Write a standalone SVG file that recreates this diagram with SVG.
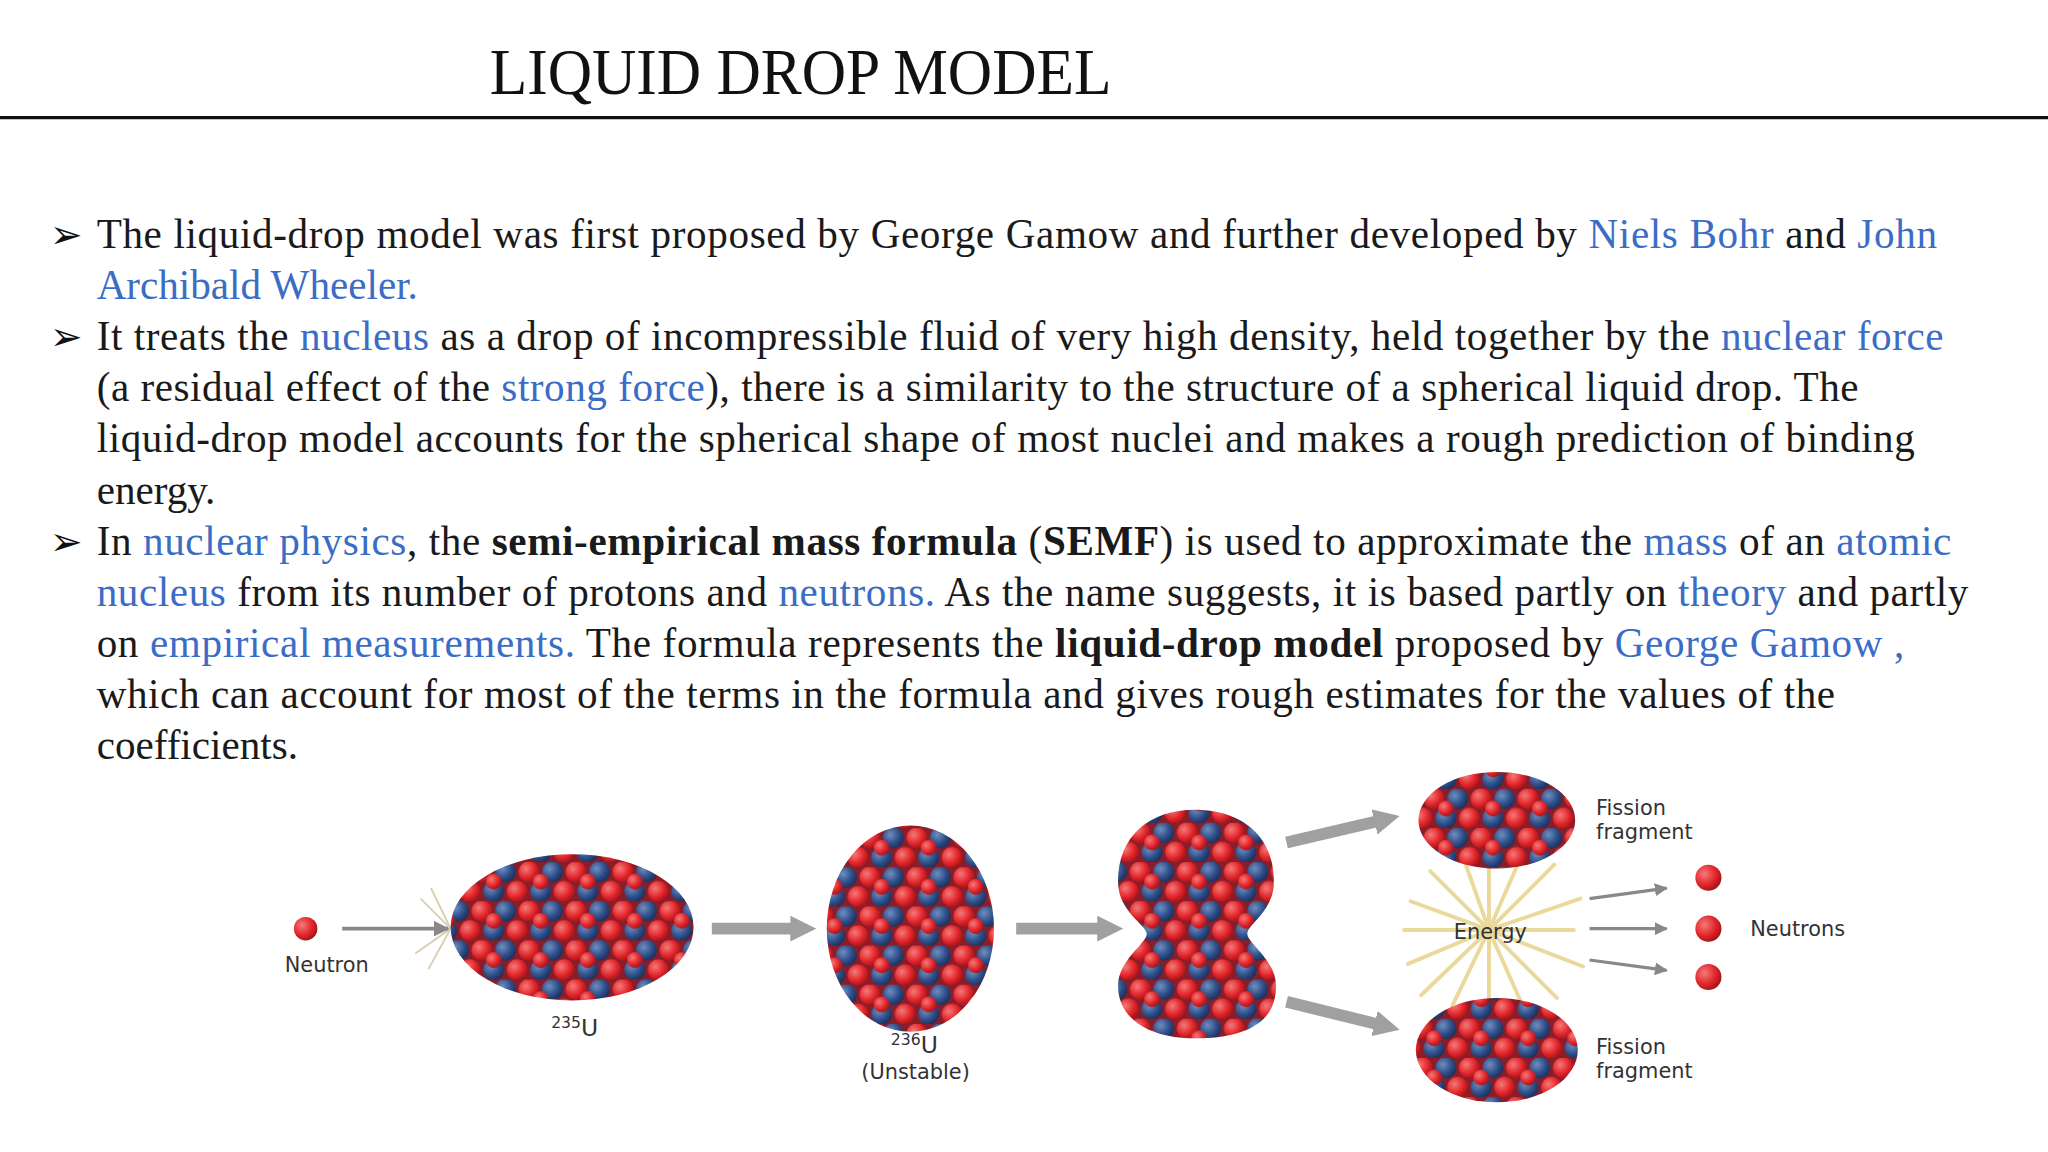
<svg xmlns="http://www.w3.org/2000/svg" width="2048" height="1152" viewBox="0 0 2048 1152">
<defs>
<style>
.t{font-family:"Liberation Serif",serif;font-size:31.5px;fill:#1a1a1a}
.b{fill:#3b6cc6}
.s{font-family:"DejaVu Sans",sans-serif;font-size:16px;fill:#333}
</style>
<radialGradient id="rg" cx="0.35" cy="0.35" r="0.7"><stop offset="0" stop-color="#f47a78"/><stop offset="0.6" stop-color="#e3262c"/><stop offset="1" stop-color="#a01418"/></radialGradient>
<radialGradient id="bg" cx="0.35" cy="0.35" r="0.7"><stop offset="0" stop-color="#6f8fc0"/><stop offset="0.6" stop-color="#2f4f8a"/><stop offset="1" stop-color="#1b2f5a"/></radialGradient>
<pattern id="nuc" width="36" height="30" patternUnits="userSpaceOnUse">
<rect width="36" height="30" fill="#8a1d2a"/>
<circle cx="9" cy="7.5" r="8" fill="url(#rg)"/>
<circle cx="27" cy="7.5" r="8" fill="url(#bg)"/>
<circle cx="0" cy="22.5" r="8" fill="url(#rg)"/>
<circle cx="36" cy="22.5" r="8" fill="url(#rg)"/>
<circle cx="18" cy="22.5" r="8" fill="url(#bg)"/>
<circle cx="18" cy="15" r="6" fill="url(#rg)"/>
</pattern>
<pattern id="nuc2" href="#nuc" patternTransform="translate(9,4)"/>
<marker id="ah" viewBox="0 0 10 10" refX="9" refY="5" markerWidth="4" markerHeight="4" orient="auto"><path d="M0,0L10,5L0,10z" fill="#888"/></marker>
<marker id="ab" viewBox="0 0 10 10" refX="5" refY="5" markerWidth="2.2" markerHeight="2.2" orient="auto"><path d="M0,0L10,5L0,10z" fill="#a0a0a0"/></marker>
</defs>
<rect width="2048" height="1152" fill="#fff"/>
<g transform="scale(1.30612)">
<g id="title">
<text x="375" y="72" textLength="476" lengthAdjust="spacingAndGlyphs" font-family="'Liberation Serif',serif" font-size="50" fill="#111">LIQUID DROP MODEL</text>
<line x1="0" y1="90" x2="1568" y2="90" stroke="#111" stroke-width="2.5"/>
</g>
<g id="bullets" font-family="'DejaVu Sans',sans-serif" font-size="30" fill="#111">
<text x="38" y="190">➢</text><text x="38" y="268">➢</text><text x="38" y="425">➢</text>
</g>
<g id="body">
<text class="t" x="74" y="190" textLength="1409" lengthAdjust="spacing">The liquid-drop model was first proposed by George Gamow and further developed by <tspan class="b">Niels Bohr</tspan> and <tspan class="b">John</tspan></text>
<text class="t" x="74" y="229"><tspan class="b">Archibald Wheeler.</tspan></text>
<text class="t" x="74" y="268" textLength="1414" lengthAdjust="spacing">It treats the <tspan class="b">nucleus</tspan> as a drop of incompressible fluid of very high density, held together by the <tspan class="b">nuclear force</tspan></text>
<text class="t" x="74" y="307" textLength="1349" lengthAdjust="spacing">(a residual effect of the <tspan class="b">strong force</tspan>), there is a similarity to the structure of a spherical liquid drop. The</text>
<text class="t" x="74" y="346" textLength="1392" lengthAdjust="spacing">liquid-drop model accounts for the spherical shape of most nuclei and makes a rough prediction of binding</text>
<text class="t" x="74" y="386">energy.</text>
<text class="t" x="74" y="425" textLength="1420" lengthAdjust="spacing">In <tspan class="b">nuclear physics</tspan>, the <tspan font-weight="bold">semi-empirical mass formula</tspan> (<tspan font-weight="bold">SEMF</tspan>) is used to approximate the <tspan class="b">mass</tspan> of an <tspan class="b">atomic</tspan></text>
<text class="t" x="74" y="464" textLength="1433" lengthAdjust="spacing"><tspan class="b">nucleus</tspan> from its number of protons and <tspan class="b">neutrons.</tspan> As the name suggests, it is based partly on <tspan class="b">theory</tspan> and partly</text>
<text class="t" x="74" y="503" textLength="1384" lengthAdjust="spacing">on <tspan class="b">empirical measurements.</tspan> The formula represents the <tspan font-weight="bold">liquid-drop model</tspan> proposed by <tspan class="b">George Gamow ,</tspan></text>
<text class="t" x="74" y="542" textLength="1331" lengthAdjust="spacing">which can account for most of the terms in the formula and gives rough estimates for the values of the</text>
<text class="t" x="74" y="581">coefficients.</text>
</g>
<g id="burst1" stroke="#d8d0b0" stroke-width="1.5">
<line x1="345" y1="711" x2="322" y2="688"/><line x1="345" y1="711" x2="318" y2="730"/><line x1="345" y1="711" x2="330" y2="680"/><line x1="345" y1="711" x2="328" y2="742"/>
</g>
<g id="energy" stroke="#e8d38a" stroke-width="3" stroke-linecap="round" opacity="0.85">
<line x1="1140" y1="712" x2="1140" y2="652"/><line x1="1140" y1="712" x2="1140" y2="772"/>
<line x1="1140" y1="712" x2="1075" y2="712"/><line x1="1140" y1="712" x2="1205" y2="712"/>
<line x1="1140" y1="712" x2="1095" y2="667"/><line x1="1140" y1="712" x2="1190" y2="662"/>
<line x1="1140" y1="712" x2="1088" y2="762"/><line x1="1140" y1="712" x2="1192" y2="764"/>
<line x1="1140" y1="712" x2="1118" y2="650"/><line x1="1140" y1="712" x2="1165" y2="655"/>
<line x1="1140" y1="712" x2="1112" y2="770"/><line x1="1140" y1="712" x2="1168" y2="775"/>
<line x1="1140" y1="712" x2="1080" y2="690"/><line x1="1140" y1="712" x2="1210" y2="688"/>
<line x1="1140" y1="712" x2="1078" y2="738"/><line x1="1140" y1="712" x2="1212" y2="740"/>
</g>
<g id="connectors" fill="none">
<line x1="262" y1="711" x2="343" y2="711" stroke="#888" stroke-width="3" marker-end="url(#ah)"/>
<line x1="545" y1="711" x2="615" y2="711" stroke="#a0a0a0" stroke-width="9" marker-end="url(#ab)"/>
<line x1="778" y1="711" x2="850" y2="711" stroke="#a0a0a0" stroke-width="9" marker-end="url(#ab)"/>
<line x1="985" y1="645" x2="1062" y2="627" stroke="#a0a0a0" stroke-width="9" marker-end="url(#ab)"/>
<line x1="985" y1="767" x2="1062" y2="786" stroke="#a0a0a0" stroke-width="9" marker-end="url(#ab)"/>
<line x1="1217" y1="688" x2="1276" y2="680" stroke="#888" stroke-width="2.5" marker-end="url(#ah)"/>
<line x1="1217" y1="711" x2="1276" y2="711" stroke="#888" stroke-width="2.5" marker-end="url(#ah)"/>
<line x1="1217" y1="735" x2="1276" y2="743" stroke="#888" stroke-width="2.5" marker-end="url(#ah)"/>
</g>
<g id="neutron"><circle cx="234" cy="711" r="9" fill="url(#rg)"/><text class="s" x="218" y="744">Neutron</text></g>
<g id="u235"><ellipse cx="438" cy="710" rx="93" ry="56" fill="url(#nuc)"/><text class="s" x="440" y="793" text-anchor="middle"><tspan font-size="12" dy="-6">235</tspan><tspan font-size="18" dy="6">U</tspan></text></g>
<g id="u236"><ellipse cx="697" cy="711" rx="64" ry="79" fill="url(#nuc2)"/><text class="s" x="700" y="806" text-anchor="middle"><tspan font-size="12" dy="-6">236</tspan><tspan font-size="18" dy="6">U</tspan></text><text class="s" x="701" y="826" text-anchor="middle">(Unstable)</text></g>
<g id="split"><path d="M915,620 C955,620 978,645 975,680 C972,700 955,708 955,715 C955,722 977,735 977,755 C977,785 950,795 915,795 C880,795 856,780 856,755 C856,735 878,722 878,715 C878,708 856,698 856,675 C856,640 880,620 915,620Z" fill="url(#nuc)"/></g>
<g id="frag1"><ellipse cx="1146" cy="628" rx="60" ry="37" fill="url(#nuc2)"/><text class="s" x="1222" y="624">Fission</text><text class="s" x="1222" y="642">fragment</text></g>
<g id="frag2"><ellipse cx="1146" cy="804" rx="62" ry="40" fill="url(#nuc)"/><text class="s" x="1222" y="807">Fission</text><text class="s" x="1222" y="825">fragment</text></g>
<g id="energyLabel"><text class="s" x="1141" y="719" text-anchor="middle">Energy</text></g>
<g id="neutrons"><circle cx="1308" cy="672" r="10" fill="url(#rg)"/><circle cx="1308" cy="711" r="10" fill="url(#rg)"/><circle cx="1308" cy="748" r="10" fill="url(#rg)"/><text class="s" x="1340" y="717">Neutrons</text></g>
</g>
</svg>
